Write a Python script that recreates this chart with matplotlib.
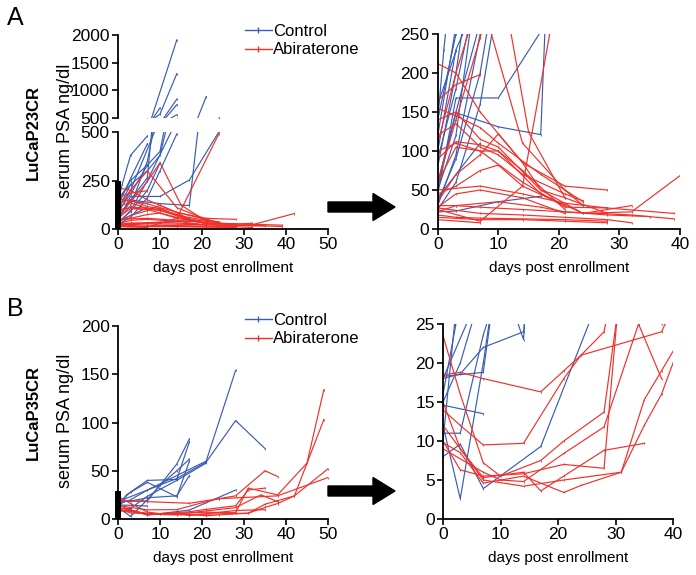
import matplotlib
matplotlib.use("Agg")
import matplotlib.pyplot as plt
from matplotlib.lines import Line2D
from matplotlib.patches import FancyArrow

plt.rcParams["font.family"] = ["Liberation Sans", "DejaVu Sans"]

BLUE = "#3a5cb4"
RED = "#f0302a"

# (day, PSA ng/dl) per animal
a_control = [
    [(0, 54), (3, 149), (10, 131), (17, 121), (21, 885)],
    [(0, 45), (3, 168), (10, 168), (17, 253), (24, 500)],
    [(0, 22), (3, 23), (10, 35), (17, 42)],
    [(0, 40), (3, 70), (7, 110)],
    [(0, 60), (3, 150), (7, 265), (14, 1910)],
    [(0, 80), (3, 200), (10, 570), (14, 1300)],
    [(0, 50), (3, 120), (7, 350), (10, 680)],
    [(0, 140), (3, 250), (7, 330), (10, 400), (14, 840)],
    [(0, 100), (3, 230), (7, 300), (10, 380), (14, 740)],
    [(0, 30), (3, 95), (7, 250), (14, 560)],
    [(0, 35), (3, 90), (7, 200), (10, 340)],
    [(0, 120), (3, 260), (7, 440)],
    [(0, 25), (3, 60), (7, 160), (10, 300), (14, 490)],
    [(0, 140), (1, 230), (3, 380), (7, 480)],
    [(0, 90), (3, 180), (7, 330)],
    [(0, 160), (3, 228)],
]

a_abiraterone = [
    [(0, 212), (3, 200), (7, 150), (14, 85), (21, 55), (28, 50)],
    [(0, 155), (3, 145), (7, 130), (10, 110), (17, 70), (24, 35)],
    [(0, 140), (3, 150), (7, 115), (10, 105), (17, 50), (24, 20), (32, 22), (42, 80)],
    [(0, 120), (3, 135), (7, 105), (10, 95), (14, 70), (21, 45), (24, 36)],
    [(0, 100), (3, 110), (7, 100), (10, 100), (17, 45), (24, 20), (32, 30)],
    [(0, 60), (3, 105), (7, 100), (14, 60), (21, 28), (28, 27)],
    [(0, 45), (3, 55), (7, 75), (10, 82), (14, 55), (21, 30)],
    [(0, 50), (7, 55), (14, 45), (21, 33), (28, 27), (39, 20)],
    [(0, 30), (3, 30), (7, 28), (14, 25), (21, 22), (32, 18), (39, 13)],
    [(0, 27), (7, 20), (14, 18), (21, 15), (28, 12), (32, 8)],
    [(0, 15), (7, 12), (14, 12), (21, 10), (28, 8)],
    [(0, 12), (7, 8)],
    [(0, 25), (7, 10), (14, 55), (24, 490)],
    [(0, 60), (3, 140), (7, 245), (10, 342), (15, 124), (21, 40), (28, 20)],
    [(0, 165), (3, 185), (7, 198)],
    [(0, 35), (3, 70), (7, 95), (10, 122), (14, 85), (17, 50), (21, 40)],
    [(0, 22), (3, 30), (10, 35), (17, 28), (21, 22), (28, 18), (35, 16)],
    [(0, 110), (3, 200), (7, 300), (14, 110), (21, 50), (24, 30)],
    [(0, 90), (3, 112), (7, 108), (10, 100), (14, 75), (21, 25)],
    [(0, 28), (3, 45), (7, 50), (14, 40), (21, 20)],
    [(0, 18), (3, 15), (7, 14), (14, 13), (21, 12), (28, 10)],
]

b_control = [
    [(0, 15), (3, 20), (7, 30), (14, 45), (21, 60), (28, 154)],
    [(0, 18), (7, 30), (14, 42), (21, 59), (28, 102), (35, 73)],
    [(0, 12), (3, 2.6), (7, 20), (10, 35), (14, 57), (17, 83)],
    [(0, 16), (3, 28), (7, 40), (14, 41), (17, 80)],
    [(0, 18.3), (7, 18.8), (10, 35), (14, 50), (17, 62)],
    [(0, 8), (3, 9.6), (7, 3.9), (17, 9.3), (28, 30)],
    [(0, 14.6), (7, 13.5)],
    [(0, 11), (3, 11), (7, 23.6), (14, 40), (21, 58)],
    [(0, 18), (3, 18.6), (7, 22), (14, 24), (17, 45)],
    [(0, 10), (2, 25), (7, 38), (14, 23), (17, 60)],
]

b_abiraterone = [
    [(0, 18.5), (3, 18.8), (7, 18), (17, 16.3), (21, 19), (24, 21), (38, 24), (50, 43)],
    [(0, 14), (3, 12), (7, 9.5), (14, 9.7), (21, 18), (24, 21), (28, 24), (35, 50), (38, 44)],
    [(0, 23.5), (3, 16), (7, 7.2), (10, 5.5), (17, 7.5), (21, 10), (28, 13.7), (31, 30), (35, 32)],
    [(0, 10), (3, 6.3), (7, 5.5), (14, 5.8), (21, 7), (28, 6.5), (31, 32), (38, 25), (45, 58), (49, 134)],
    [(0, 15), (3, 9), (7, 5), (14, 4.2), (21, 5), (31, 6), (35, 15.3), (38, 19), (42, 24), (50, 52)],
    [(0, 12), (3, 9), (7, 5.3), (14, 6), (17, 3.6), (21, 5.5), (28, 8.8), (35, 9.7)],
    [(0, 9.8), (3, 8.5), (7, 4.6), (14, 5.5), (21, 3.4), (24, 4.3), (31, 6), (35, 12), (38, 16), (42, 24), (49, 103)],
    [(0, 9), (7, 6), (10, 5), (14, 4.8), (21, 8.4), (28, 11.8), (34, 25), (38, 18)],
]

zoom_a = 250
zoom_b = 25


def style(ax, bottom=True):
    for side in ("top", "right"):
        ax.spines[side].set_visible(False)
    ax.spines["left"].set_linewidth(1.3)
    ax.spines["bottom"].set_linewidth(1.3)
    if not bottom:
        ax.spines["bottom"].set_visible(False)
        ax.tick_params(axis="x", bottom=False, labelbottom=False)
    ax.tick_params(labelsize=12.5, length=4, width=1.2, pad=2)


def draw(ax, series, color):
    for s in series:
        x, y = zip(*s)
        ax.plot(x, y, color=color, lw=0.85, marker="|", ms=2, mew=0.6)


fig = plt.figure(figsize=(6.96, 5.75), dpi=100)

# panel A, left: broken axis
ax_up = fig.add_axes([0.1695, 0.7948, 0.3018, 0.1443])
ax_lo = fig.add_axes([0.1695, 0.6017, 0.3018, 0.1687])
for ax in (ax_up, ax_lo):
    draw(ax, a_control, BLUE)
    draw(ax, a_abiraterone, RED)
    ax.set_xlim(0, 50)
ax_up.set_ylim(500, 2000)
ax_up.set_yticks([500, 1000, 1500, 2000])
style(ax_up, bottom=False)
ax_lo.set_ylim(0, 500)
ax_lo.set_yticks([0, 250, 500])
ax_lo.set_xticks(range(0, 51, 10))
style(ax_lo)
ax_lo.set_xlabel("days post enrollment", fontsize=11, labelpad=6)
ax_lo.bar(0, zoom_a, width=1.5, color="black", clip_on=False, zorder=5)

# panel A, right: zoom
ax_a2 = fig.add_axes([0.629, 0.6017, 0.348, 0.3392])
draw(ax_a2, a_control, BLUE)
draw(ax_a2, a_abiraterone, RED)
ax_a2.set_xlim(0, 40)
ax_a2.set_ylim(0, zoom_a)
ax_a2.set_xticks(range(0, 41, 10))
ax_a2.set_yticks(range(0, 251, 50))
style(ax_a2)
ax_a2.set_xlabel("days post enrollment", fontsize=11, labelpad=6)

# panel B, left
ax_b1 = fig.add_axes([0.1695, 0.0974, 0.3018, 0.3356])
draw(ax_b1, b_control, BLUE)
draw(ax_b1, b_abiraterone, RED)
ax_b1.set_xlim(0, 50)
ax_b1.set_ylim(0, 200)
ax_b1.set_xticks(range(0, 51, 10))
ax_b1.set_yticks(range(0, 201, 50))
style(ax_b1)
ax_b1.set_xlabel("days post enrollment", fontsize=11, labelpad=6)
ax_b1.bar(0, 28.5, width=1.5, color="black", clip_on=False, zorder=5)

# panel B, right: zoom
ax_b2 = fig.add_axes([0.6365, 0.0974, 0.3305, 0.3391])
draw(ax_b2, b_control, BLUE)
draw(ax_b2, b_abiraterone, RED)
ax_b2.set_xlim(0, 40)
ax_b2.set_ylim(0, zoom_b)
ax_b2.set_xticks(range(0, 41, 10))
ax_b2.set_yticks(range(0, 26, 5))
style(ax_b2)
ax_b2.set_xlabel("days post enrollment", fontsize=11, labelpad=6)

# labels
fig.text(15 / 696, 1 - 18 / 575, "A", fontsize=18, ha="center", va="center")
fig.text(15 / 696, 1 - 309 / 575, "B", fontsize=18, ha="center", va="center")
fig.text(33 / 696, 1 - 132 / 575, "LuCaP23CR", fontsize=12, fontweight="bold",
         rotation=90, ha="center", va="center")
fig.text(65 / 696, 1 - 131 / 575, "serum PSA ng/dl", fontsize=13,
         rotation=90, ha="center", va="center")
fig.text(33 / 696, 1 - 413 / 575, "LuCaP35CR", fontsize=12, fontweight="bold",
         rotation=90, ha="center", va="center")
fig.text(65 / 696, 1 - 421 / 575, "serum PSA ng/dl", fontsize=13,
         rotation=90, ha="center", va="center")

# legends
handles = [Line2D([], [], color=BLUE, lw=1, marker="|", ms=5, mew=1),
           Line2D([], [], color=RED, lw=1, marker="|", ms=5, mew=1)]
for top in (1 - 24 / 575, 1 - 313 / 575):
    fig.legend(handles, ["Control", "Abiraterone"], loc="upper left",
               bbox_to_anchor=(245 / 696, top), frameon=False, fontsize=12,
               handlelength=1.6, handletextpad=0.1, labelspacing=0.2,
               borderaxespad=0, borderpad=0)

# arrows between panels
for yc in (207, 491):
    fig.patches.append(FancyArrow(328 / 696, 1 - yc / 575, 67 / 696, 0,
                                  width=10 / 575, head_width=27 / 575,
                                  head_length=22 / 696, length_includes_head=True,
                                  color="black", transform=fig.transFigure))

fig.savefig("out.png", dpi=100)
